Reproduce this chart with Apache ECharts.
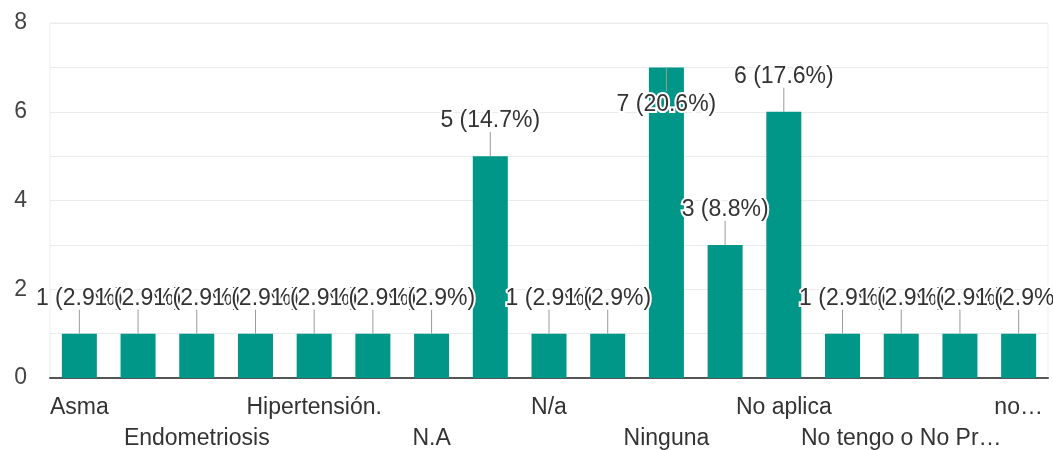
<!DOCTYPE html>
<html>
<head>
<meta charset="utf-8">
<script src="https://cdn.jsdelivr.net/npm/echarts@6/dist/echarts.min.js"></script>
<style>
  html, body { margin: 0; padding: 0; background: #fff; }
  #chart { width: 1053px; height: 450px; }
</style>
</head>
<body>
<div id="chart"></div>
<script>
// Answers (alphabetical) and how many respondents gave each one
const categories = [
  'Asma', 'Diabetes', 'Endometriosis', 'Gastritis', 'Hipertensión.',
  'Hipotiroidismo', 'N.A', 'N.A.', 'N/a', 'NA', 'Ninguna', 'No',
  'No aplica', 'No tengo', 'No tengo o No Pr…', 'Sin enfermedades', 'no…'
];
const counts = [1, 1, 1, 1, 1, 1, 1, 5, 1, 1, 7, 3, 6, 1, 1, 1, 1];
const yTicks = [0, 2, 4, 6, 8];

const total = counts.reduce((a, b) => a + b, 0);
const FONT = '"Liberation Sans", Arial, sans-serif';
const FS = 23;

// category labels are staggered over two rows: every fourth name on each row
function labelRow(rowStart, margin, showLine) {
  return {
    type: 'category',
    data: categories,
    position: 'bottom',
    axisLine: { show: showLine, lineStyle: { color: '#555', width: 2 } },
    axisTick: { show: false },
    splitLine: { show: false },
    axisLabel: {
      interval: idx => idx % 4 === rowStart,
      margin: margin,
      color: '#333',
      fontFamily: FONT,
      fontSize: FS
    }
  };
}

const chart = echarts.init(document.getElementById('chart'), null, { renderer: 'canvas' });

chart.setOption({
  animation: false,
  backgroundColor: '#fff',
  grid: {
    left: 50, right: 5, top: 23, bottom: 72,
    show: true, borderColor: '#eeeeee', borderWidth: 1,
    outerBoundsMode: 'none'
  },
  xAxis: [labelRow(0, 18, true), labelRow(2, 49, false)],
  yAxis: {
    type: 'value',
    min: 0, max: 8, interval: 1,
    axisLine: { show: false },
    axisTick: { show: false },
    splitLine: { lineStyle: { color: '#ebebeb', width: 1 } },
    axisLabel: {
      margin: 23,
      color: '#444',
      fontFamily: FONT,
      fontSize: FS,
      formatter: v => (yTicks.includes(v) ? String(v) : '')
    }
  },
  series: [
    {
      type: 'bar',
      xAxisIndex: 0,
      data: counts,
      barWidth: 35,
      itemStyle: { color: '#009688' },
      z: 2
    },
    {
      // value labels with a short guide line to each bar top
      type: 'custom',
      xAxisIndex: 0,
      data: counts.map((v, i) => [i, v]),
      z: 3,
      renderItem: (params, api) => {
        const v = api.value(1);
        const p = api.coord([api.value(0), v]);
        const x = p[0], y = p[1];
        const gridTop = params.coordSys.y;
        const below = y - 46 < gridTop;
        const dir = below ? 1 : -1;
        const pct = (v / total * 100).toFixed(1);
        return {
          type: 'group',
          children: [
            {
              type: 'line',
              shape: { x1: x, y1: y, x2: x, y2: y + dir * 24 },
              style: { stroke: '#9a9a9a', lineWidth: 1 }
            },
            {
              type: 'text',
              x: x,
              y: y + dir * (below ? 37 : 35),
              style: {
                text: v + ' (' + pct + '%)',
                align: 'center',
                verticalAlign: 'middle',
                fontFamily: FONT,
                fontSize: FS,
                fill: '#333',
                stroke: '#fff',
                lineWidth: 4
              }
            }
          ]
        };
      }
    }
  ]
});
</script>
</body>
</html>
